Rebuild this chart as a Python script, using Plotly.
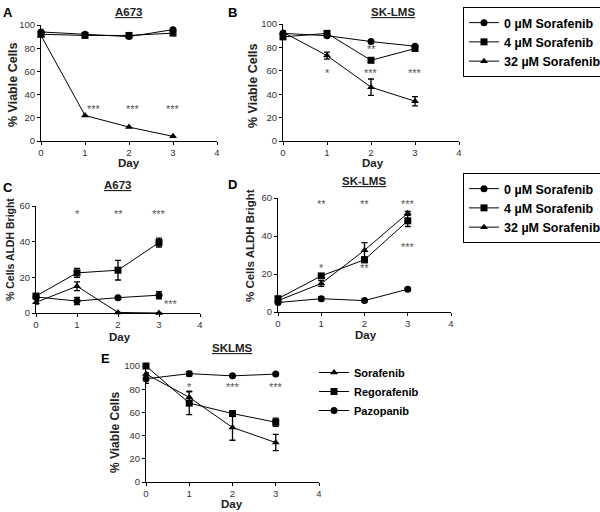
import plotly.graph_objects as go

days = [0, 1, 2, 3]

# Panel A (A673 viability)
A_0 = [94, 92, 90, 96]
A_4 = [92, 91, 91, 93]
A_32 = [91, 22, 12, 4]

# Panel B (SK-LMS viability)
B_0 = [92, 90, 85, 81]
B_0_err = [0.5, 0.5, 1, 1]
B_4 = [89, 92, 69, 79]
B_4_err = [2, 2, 2, 2]
B_32 = [93, 73, 46, 34]
B_32_err = [1, 3, 7, 4]

# Panel C (A673 ALDH bright)
C_0 = [9, 6.7, 8.6, 10]
C_0_err = [1, 2, 0.5, 2]
C_4 = [9.5, 22.5, 24, 39.5]
C_4_err = [1, 2.5, 5.5, 2.5]
C_32 = [6, 15, 0.3, 0]
C_32_err = [1, 2.5, 0, 0]

# Panel D (SK-LMS ALDH bright)
D_0 = [5, 7, 6, 12]
D_0_err = [1, 1, 0.5, 0.5]
D_4 = [7, 19, 27.5, 48]
D_4_err = [1, 1, 1.5, 3]
D_32 = [6, 15, 32.5, 52]
D_32_err = [1, 1.5, 4, 1]

# Panel E (SKLMS viability, three drugs)
E_sora = [93, 73, 47, 34]
E_sora_err = [1, 5, 11, 7]
E_rego = [100, 68, 59, 51.5]
E_rego_err = [1, 10, 1, 3.5]
E_pazo = [89, 93.4, 91.5, 93]
E_pazo_err = [4, 2, 0.5, 0.5]

conc_labels = ["0 µM Sorafenib", "4 µM Sorafenib", "32 µM Sorafenib"]
drug_labels = ["Sorafenib", "Regorafenib", "Pazopanib"]

# significance stars: (x, y, text)
A_stars = ([1.2, 2.1, 3.0], [28, 28, 28], ["***", "***", "***"])
B_stars = ([1.0, 2.0, 2.0, 3.0], [58, 79, 58, 58], ["*", "**", "***", "***"])
C_stars = ([1.0, 2.0, 3.0, 3.3], [55.5, 55.5, 55.5, 5], ["*", "**", "***", "***"])
D_stars = ([1.0, 2.0, 3.0, 1.0, 2.0, 3.0], [57, 57, 57, 23, 23, 34], ["**", "**", "***", "*", "**", "***"])
E_stars = ([1.0, 2.0, 3.0], [82, 82, 82], ["*", "***", "***"])

FONT = "Liberation Sans, Arial, sans-serif"

fig = go.Figure()


def add(xa, ya, y, err, name, sym, legend="legend", show=False):
    kw = {}
    if err is not None:
        kw["error_y"] = dict(type="data", array=err, color="black", thickness=1.3, width=3)
    fig.add_trace(go.Scatter(
        x=days, y=y, mode="lines+markers", name="<b>" + name + "</b>",
        line=dict(color="black", width=1),
        marker=dict(symbol=sym, size=7, color="black"),
        xaxis=xa, yaxis=ya, cliponaxis=False,
        showlegend=show, legend=legend, **kw))


add("x", "y", A_0, None, conc_labels[0], "circle", "legend", True)
add("x", "y", A_4, None, conc_labels[1], "square", "legend", True)
add("x", "y", A_32, None, conc_labels[2], "triangle-up", "legend", True)

add("x2", "y2", B_0, B_0_err, conc_labels[0], "circle")
add("x2", "y2", B_4, B_4_err, conc_labels[1], "square")
add("x2", "y2", B_32, B_32_err, conc_labels[2], "triangle-up")

add("x3", "y3", C_0, C_0_err, conc_labels[0], "circle", "legend2", True)
add("x3", "y3", C_4, C_4_err, conc_labels[1], "square", "legend2", True)
add("x3", "y3", C_32, C_32_err, conc_labels[2], "triangle-up", "legend2", True)

add("x4", "y4", D_0, D_0_err, conc_labels[0], "circle")
add("x4", "y4", D_4, D_4_err, conc_labels[1], "square")
add("x4", "y4", D_32, D_32_err, conc_labels[2], "triangle-up")

add("x5", "y5", E_sora, E_sora_err, drug_labels[0], "triangle-up", "legend3", True)
add("x5", "y5", E_rego, E_rego_err, drug_labels[1], "square", "legend3", True)
add("x5", "y5", E_pazo, E_pazo_err, drug_labels[2], "circle", "legend3", True)

W, H = 600, 512


def px_x(a, b):
    return [a / W, b / W]


def px_y(bottom, top):
    return [1 - bottom / H, 1 - top / H]


def xax(dom, anchor):
    return dict(domain=dom, anchor=anchor, range=[0, 4], tickvals=[0, 1, 2, 3, 4],
                showline=True, linecolor="black", linewidth=1, ticks="outside", ticklen=3,
                tickcolor="black", tickfont=dict(size=9.5, color="#333", family=FONT),
                showgrid=False, zeroline=False)


def yax(dom, anchor, rng, dt):
    return dict(domain=dom, anchor=anchor, range=rng, dtick=dt,
                showline=True, linecolor="black", linewidth=1, ticks="outside", ticklen=3,
                tickcolor="black", tickfont=dict(size=9.5, color="#333", family=FONT),
                showgrid=False, zeroline=False)


legend_common = dict(xanchor="left", yanchor="top", bordercolor="black", borderwidth=1, bgcolor="white",
                     font=dict(size=12.5, family=FONT, color="black"), tracegroupgap=0)

fig.update_layout(
    width=W, height=H, margin=dict(l=0, r=0, t=0, b=0, autoexpand=False),
    paper_bgcolor="white", plot_bgcolor="white",
    font=dict(family=FONT, color="black"),
    xaxis=xax(px_x(41, 217), "y"),
    yaxis=yax(px_y(141, 25), "x", [0, 100], 20),
    xaxis2=xax(px_x(283, 459), "y2"),
    yaxis2=yax(px_y(141, 24), "x2", [0, 100], 20),
    xaxis3=xax(px_x(36, 200), "y3"),
    yaxis3=yax(px_y(313, 206), "x3", [0, 60], 20),
    xaxis4=xax(px_x(278, 451), "y4"),
    yaxis4=yax(px_y(312, 198), "x4", [0, 60], 20),
    xaxis5=xax(px_x(146, 319), "y5"),
    yaxis5=yax(px_y(482, 366), "x5", [0, 100], 20),
    legend=dict(x=463 / W, y=1 - 7 / H, **legend_common),
    legend2=dict(x=463 / W, y=1 - 173 / H, **legend_common),
    legend3=dict(x=314 / W, y=1 - 358 / H, xanchor="left", yanchor="top",
                 borderwidth=0, bgcolor="rgba(0,0,0,0)",
                 font=dict(size=11, family=FONT, color="black"), tracegroupgap=0),
)

annotations = []


def stars(xref, yref, data, size=11):
    for x, y, t in zip(*data):
        annotations.append(dict(x=x, y=y, xref=xref, yref=yref, text=t, showarrow=False,
                                font=dict(size=size, color="#555", family=FONT)))


stars("x", "y", A_stars)
stars("x2", "y2", B_stars)
stars("x3", "y3", C_stars)
stars("x4", "y4", D_stars)
stars("x5", "y5", E_stars)


def label(t, x, y, size, color="#222", angle=0):
    annotations.append(dict(x=x / W, y=1 - y / H, xref="paper", yref="paper", text=t,
                            showarrow=False, xanchor="center", yanchor="middle", textangle=angle,
                            font=dict(size=size, color=color, family=FONT)))


panel_letters = [("A", 8, 12), ("B", 232, 12), ("C", 8, 187), ("D", 233, 184), ("E", 105, 358)]
for t, x, y in panel_letters:
    label("<b>" + t + "</b>", x, y, 13, "black")

panel_titles = [("A673", 129, 12), ("SK-LMS", 393, 12), ("A673", 118, 185), ("SK-LMS", 364, 181), ("SKLMS", 232, 348)]
for t, x, y in panel_titles:
    label("<b><u>" + t + "</u></b>", x, y, 11.5)

# axis titles
x_titles = [("Day", 129, 163), ("Day", 373, 163), ("Day", 120, 337), ("Day", 366, 335), ("Day", 232, 504)]
for t, x, y in x_titles:
    label("<b>" + t + "</b>", x, y, 11.5)

y_titles = [("% Viable Cells", 13, 85, 12.5), ("% Viable Cells", 253, 86, 12.5),
            ("% Cells ALDH Bright", 10, 250, 10.5), ("% Cells ALDH Bright", 250, 246, 11.5),
            ("% Viable Cells", 115, 433, 12)]
for t, x, y, s in y_titles:
    label("<b>" + t + "</b>", x, y, s, angle=-90)

fig.update_layout(annotations=annotations)
fig.write_html("out.html", config={"displayModeBar": False},
               post_script="document.body.style.margin='0';document.body.style.overflow='hidden';")
